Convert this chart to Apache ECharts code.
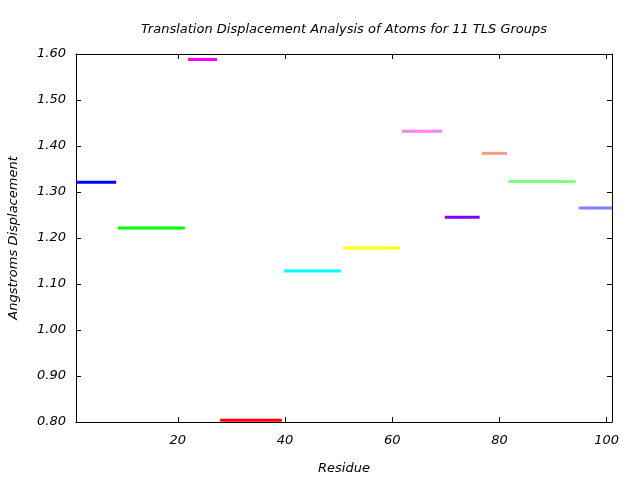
<!DOCTYPE html>
<html>
<head>
<meta charset="utf-8">
<script src="https://cdn.jsdelivr.net/npm/echarts@6/dist/echarts.min.js"></script>
<style>
  html, body { margin: 0; padding: 0; background: #fff; }
  #chart { width: 640px; height: 480px; }
</style>
</head>
<body>
<div id="chart"></div>
<script>
// residue ranges of the 11 TLS groups and their displacement
const groupStart = [1, 8.8, 21.9, 27.9, 39.8, 50.8, 61.8, 69.8, 76.7, 81.7, 94.8];
const groupEnd = [8.5, 21.3, 27.3, 39.4, 50.4, 61.4, 69.3, 76.3, 81.4, 94.2, 101];
const displacement = [1.321, 1.222, 1.588, 0.804, 1.128, 1.178, 1.432, 1.245, 1.384, 1.323, 1.265];
const xTicks = [20, 40, 60, 80, 100];

const colors = ["#0000ff", "#00ff00", "#ff00ff", "#ff0000", "#00ffff", "#ffff00",
  "#ff80ff", "#8000ff", "#ff9980", "#80ff80", "#8080ff"];

const font = "DejaVu Sans";
const chart = echarts.init(document.getElementById("chart"));

const axisBase = {
  axisLine: { show: true, onZero: false, lineStyle: { color: "#000", width: 1 } },
  axisTick: { inside: true, length: 5, lineStyle: { color: "#000" } },
  splitLine: { show: false },
};

const option = {
  animation: false,
  backgroundColor: "#fff",
  title: {
    text: "Translation Displacement Analysis of Atoms for 11 TLS Groups",
    left: 339,
    top: 18,
    textAlign: "center",
    textStyle: { fontFamily: font, fontStyle: "italic", fontWeight: "normal", fontSize: 13, color: "#000" },
  },
  grid: { left: 76, right: 28, top: 54, bottom: 58, outerBoundsMode: "none" },
  xAxis: [
    Object.assign({}, axisBase, {
      type: "value", min: 1, max: 101, position: "bottom",
      name: "Residue", nameLocation: "middle", nameGap: 40,
      nameTextStyle: { fontFamily: font, fontStyle: "italic", fontSize: 13, color: "#000" },
      axisTick: Object.assign({}, axisBase.axisTick, { customValues: xTicks }),
      axisLabel: { customValues: xTicks, margin: 12, fontFamily: font, fontStyle: "italic", fontSize: 13, color: "#000" },
    }),
    Object.assign({}, axisBase, {
      type: "value", min: 1, max: 101, position: "top",
      axisTick: Object.assign({}, axisBase.axisTick, { customValues: xTicks }),
      axisLabel: { show: false },
    }),
  ],
  yAxis: [
    Object.assign({}, axisBase, {
      type: "value", min: 0.8, max: 1.6, interval: 0.1, position: "left",
      name: "Angstroms Displacement", nameLocation: "middle", nameGap: 56,
      nameTextStyle: { fontFamily: font, fontStyle: "italic", fontSize: 13, color: "#000" },
      axisLabel: {
        margin: 10, fontFamily: font, fontStyle: "italic", fontSize: 13, color: "#000",
        formatter: (v) => v.toFixed(2),
      },
    }),
    Object.assign({}, axisBase, {
      type: "value", min: 0.8, max: 1.6, interval: 0.1, position: "right",
      axisLabel: { show: false },
    }),
  ],
  series: displacement.map((d, i) => ({
    type: "line",
    name: "TLS group " + (i + 1),
    data: [[groupStart[i], d], [groupEnd[i], d]],
    showSymbol: false,
    symbol: "none",
    clip: false,
    lineStyle: { color: colors[i], width: 3 },
  })),
};
chart.setOption(option);
</script>
</body>
</html>
